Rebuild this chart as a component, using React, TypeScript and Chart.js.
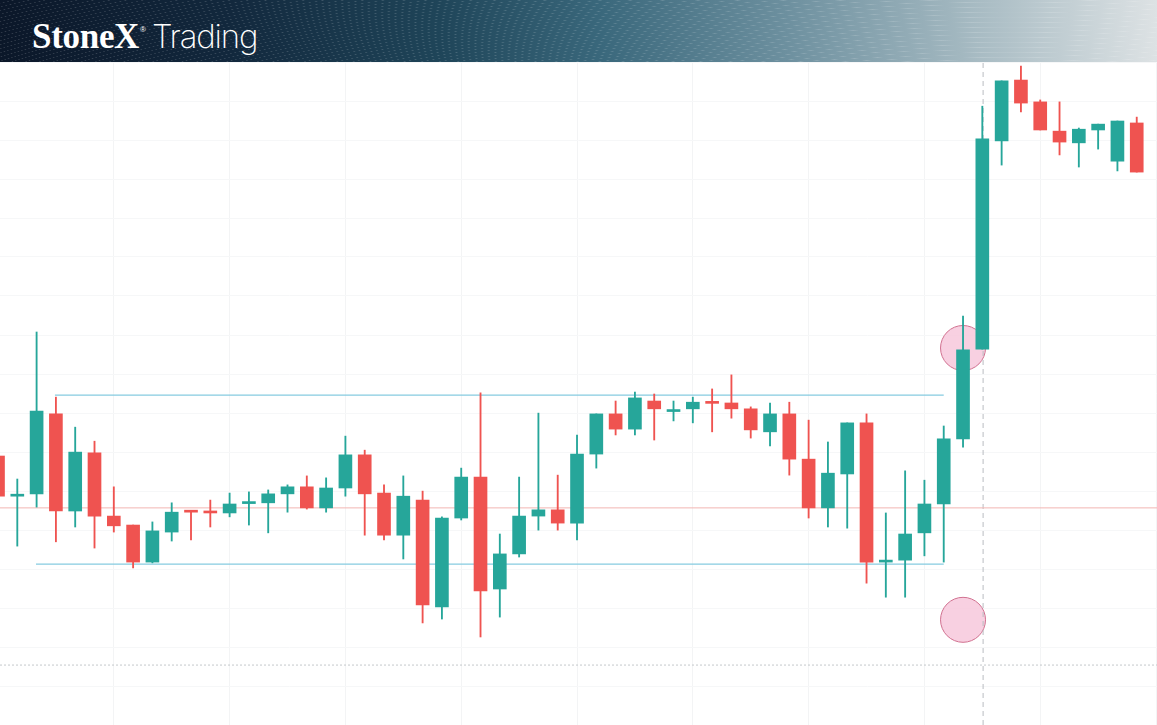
import React, { useEffect, useRef } from "react";
import { Chart, registerables } from "chart.js";

Chart.register(...registerables);

// one candle per session, left to right
const opens = [
  114.1, 103.8, 104.4, 124.9, 100.0, 114.9, 98.7, 96.4, 86.9, 94.6,
  100.0, 100.0, 99.5, 101.9, 102.1, 104.4, 106.2, 100.8, 105.9, 114.4,
  104.6, 93.8, 102.8, 75.4, 98.2, 108.7, 80.0, 89.0, 98.7, 100.3,
  96.9, 114.6, 124.9, 121.0, 128.2, 125.5, 126.2, 127.7, 127.7, 126.2,
  120.3, 124.9, 113.3, 100.8, 109.5, 122.6, 86.9, 87.4, 94.4, 101.8,
  118.5, 141.5, 194.9, 210.5, 204.9, 197.4, 194.4, 197.7, 189.7, 199.5,
];
const highs = [
  116.2, 108.2, 145.9, 129.2, 121.5, 117.9, 106.2, 96.4, 97.2, 102.1,
  100.0, 102.8, 104.6, 104.9, 105.4, 106.7, 109.0, 108.5, 119.2, 115.6,
  106.7, 109.0, 105.1, 98.5, 111.0, 130.3, 94.1, 108.7, 125.1, 109.2,
  119.5, 124.9, 128.2, 130.5, 130.0, 128.2, 129.2, 131.3, 134.9, 126.7,
  127.7, 127.9, 123.3, 117.7, 122.6, 124.9, 99.5, 110.3, 107.9, 121.8,
  150.0, 203.8, 210.3, 214.1, 205.4, 204.9, 198.2, 199.2, 200.0, 201.0,
];
const lows = [
  102.8, 91.0, 101.0, 92.1, 95.9, 90.5, 94.6, 85.4, 86.7, 92.3,
  92.6, 95.9, 98.5, 96.4, 94.4, 99.7, 100.5, 99.7, 103.8, 93.8,
  92.6, 87.7, 71.3, 72.3, 97.7, 67.7, 72.8, 88.2, 95.1, 95.1,
  92.6, 111.0, 119.5, 119.5, 118.2, 123.1, 122.6, 120.3, 123.8, 118.7,
  116.7, 109.2, 98.2, 95.9, 95.6, 81.5, 77.9, 77.9, 88.5, 86.9,
  116.4, 141.5, 188.7, 202.3, 197.7, 191.3, 188.2, 192.8, 187.2, 186.9,
];
const closes = [
  103.8, 104.1, 125.6, 100.0, 115.1, 98.7, 96.2, 86.9, 94.9, 99.7,
  99.7, 99.5, 101.8, 102.1, 104.4, 106.2, 100.8, 105.9, 114.4, 104.4,
  93.8, 103.8, 75.9, 98.2, 108.7, 79.5, 89.0, 98.7, 100.3, 96.9,
  114.6, 124.9, 121.0, 129.0, 126.2, 125.6, 127.9, 127.6, 126.2, 120.8,
  124.9, 113.3, 100.8, 109.7, 122.6, 86.9, 87.2, 94.1, 101.8, 118.5,
  141.3, 195.4, 210.3, 204.6, 197.7, 194.6, 197.9, 199.2, 200.0, 186.9,
];

// annotated levels (price) and where they start / end (candle index)
const resistanceLevel = 129.7;
const resistanceSpan = [2.95, 49.0];
const supportLevel = 86.4;
const supportSpan = [1.97, 49.0];
const pivotLevel = 100.8;
const baseLevel = 60.5;
const breakoutIndex = 51.04;
const markerIndex = 50;
const markerLevels = [141.8, 72.1];

const X_MIN = 0.1036;
const X_MAX = 60.05;
const Y_MIN = 45.13;
const Y_MAX = 215.13;

const UP = "#26a69a";
const DOWN = "#ef5350";

const CandleChart: React.FC = () => {
  const chartRef = useRef<HTMLCanvasElement>(null);
  const chartInstance = useRef<Chart | null>(null);

  useEffect(() => {
    if (!chartRef.current) return;
    if (chartInstance.current) chartInstance.current.destroy();
    const ctx = chartRef.current.getContext("2d");
    if (!ctx) return;

    const colors = opens.map((o, i) => (closes[i] >= o ? UP : DOWN));

    chartInstance.current = new Chart(ctx, {
      type: "bar",
      data: {
        datasets: [
          {
            type: "bar",
            label: "body",
            data: opens.map((o, i) => ({ x: i, y: [o, closes[i]] })) as any,
            backgroundColor: colors,
            borderWidth: 0,
            barThickness: 13,
            minBarLength: 2,
            grouped: false,
            order: 1,
          },
          {
            type: "bar",
            label: "wick",
            data: lows.map((l, i) => ({ x: i, y: [l, highs[i]] })) as any,
            backgroundColor: colors,
            borderWidth: 0,
            barThickness: 1.2,
            grouped: false,
            order: 2,
          },
          {
            type: "line",
            label: "resistance",
            data: resistanceSpan.map((x) => ({ x, y: resistanceLevel })),
            borderColor: "#86cbe0",
            borderWidth: 1.2,
            pointRadius: 0,
            order: 3,
          },
          {
            type: "line",
            label: "support",
            data: supportSpan.map((x) => ({ x, y: supportLevel })),
            borderColor: "#86cbe0",
            borderWidth: 1.2,
            pointRadius: 0,
            order: 3,
          },
          {
            type: "line",
            label: "pivot",
            data: [X_MIN, X_MAX].map((x) => ({ x, y: pivotLevel })),
            borderColor: "#f2b5b3",
            borderWidth: 1,
            pointRadius: 0,
            order: 4,
          },
          {
            type: "line",
            label: "base",
            data: [X_MIN, X_MAX].map((x) => ({ x, y: baseLevel })),
            borderColor: "#c4c8cc",
            borderWidth: 1,
            borderDash: [2, 2],
            pointRadius: 0,
            order: 4,
          },
          {
            type: "line",
            label: "breakout",
            data: [Y_MIN, Y_MAX].map((y) => ({ x: breakoutIndex, y })),
            borderColor: "#b9bdc1",
            borderWidth: 1,
            borderDash: [5, 4],
            pointRadius: 0,
            order: 4,
          },
          {
            type: "line",
            label: "markers",
            data: markerLevels.map((y) => ({ x: markerIndex, y })),
            showLine: false,
            pointRadius: 22.5,
            pointBackgroundColor: "rgba(247, 200, 220, 0.85)",
            pointBorderColor: "#d0708f",
            pointBorderWidth: 1,
            order: 5,
          },
        ],
      },
      options: {
        responsive: true,
        maintainAspectRatio: false,
        animation: false,
        events: [],
        layout: { padding: 0, autoPadding: false },
        plugins: {
          legend: { display: false },
          tooltip: { enabled: false },
          title: { display: false },
        },
        scales: {
          x: {
            type: "linear",
            min: X_MIN,
            max: X_MAX,
            offset: false,
            border: { display: false },
            grid: { color: "#f3f4f5", drawTicks: false, offset: false },
            ticks: { display: false, stepSize: 6, includeBounds: false },
          },
          y: {
            type: "linear",
            min: Y_MIN,
            max: Y_MAX,
            border: { display: false },
            grid: { color: "#f6f7f8", drawTicks: false },
            ticks: { display: false, stepSize: 10, includeBounds: false },
          },
        },
      },
    });

    return () => {
      if (chartInstance.current) {
        chartInstance.current.destroy();
        chartInstance.current = null;
      }
    };
  }, []);

  return (
    <div style={{ position: "absolute", top: 62, left: 0, width: 1157, height: 663 }}>
      <canvas ref={chartRef}></canvas>
    </div>
  );
};

const Header: React.FC = () => (
  <div
    style={{
      position: "absolute",
      top: 0,
      left: 0,
      width: 1157,
      height: 62,
      overflow: "hidden",
      background:
        "linear-gradient(90deg, #0b1729 0%, #12283d 20%, #1f4559 38%, #3a687c 52%, #6d909f 68%, #a6bac2 84%, #dde2e4 100%)",
    }}
  >
    <div
      style={{
        position: "absolute",
        inset: 0,
        background:
          "repeating-radial-gradient(ellipse at 1010px 230px, rgba(255,255,255,0) 0px, rgba(255,255,255,0) 9px, rgba(255,255,255,0.16) 10px, rgba(255,255,255,0) 11px)",
      }}
    />
    <div
      style={{
        position: "absolute",
        left: 32,
        top: 6,
        color: "#ffffff",
        whiteSpace: "nowrap",
        lineHeight: "48px",
      }}
    >
      <span
        style={{
          fontFamily: "'Liberation Serif', serif",
          fontWeight: 700,
          fontSize: 35,
          letterSpacing: -0.3,
        }}
      >
        StoneX
      </span>
      <span
        style={{
          fontFamily: "'Liberation Sans', sans-serif",
          fontSize: 8,
          verticalAlign: 16,
          marginLeft: 1,
          marginRight: 6,
        }}
      >
        ®
      </span>
      <span
        style={{
          fontFamily: "Inter, 'Open Sans', sans-serif",
          fontWeight: 200,
          fontSize: 33,
          letterSpacing: -1.2,
        }}
      >
        Trading
      </span>
    </div>
  </div>
);

const App: React.FC = () => (
  <div
    style={{
      position: "fixed",
      top: 0,
      left: 0,
      width: 1157,
      height: 725,
      overflow: "hidden",
      background: "#ffffff",
    }}
  >
    <CandleChart />
    <Header />
  </div>
);

export default App;
